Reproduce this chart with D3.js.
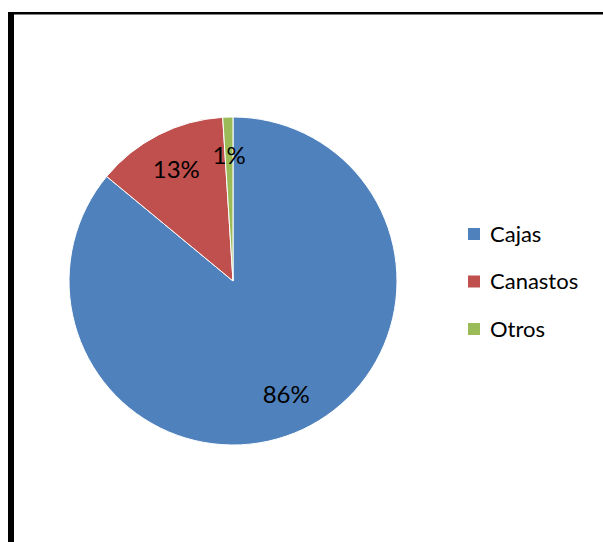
<!DOCTYPE html>
<html>
<head>
<meta charset="utf-8">
<script src="https://cdn.jsdelivr.net/npm/d3@7"></script>
<style>
  html, body { margin: 0; padding: 0; background: #fff; }
  svg { display: block; }
</style>
</head>
<body>
<svg id="chart" width="603" height="542"></svg>
<script>
// Packaging types and their shares (percent)
const categories = ["Cajas", "Canastos", "Otros"];
const values = [86, 13, 1];
const labels = ["86%", "13%", "1%"];
const colors = ["#4F81BD", "#C0504D", "#9BBB59"];

const svg = d3.select("#chart");
const font = "Lato, 'Open Sans', sans-serif";

// Frame: top rule and heavy left rule
svg.append("rect").attr("x", 8).attr("y", 12).attr("width", 595).attr("height", 2.5).attr("fill", "#000");
svg.append("rect").attr("x", 8).attr("y", 12).attr("width", 6).attr("height", 530).attr("fill", "#000");

const cx = 233, cy = 281, r = 164;
const g = svg.append("g").attr("transform", `translate(${cx},${cy})`);

const pie = d3.pie().sort(null).value(d => d)(values);
const arc = d3.arc().innerRadius(0).outerRadius(r);
const labelArc = d3.arc().innerRadius(125).outerRadius(125);

g.selectAll("path.slice")
  .data(pie)
  .join("path")
  .attr("class", "slice")
  .attr("d", arc)
  .attr("fill", (d, i) => colors[i])
  .attr("stroke", "#fff")
  .attr("stroke-width", 1);

g.selectAll("text.lbl")
  .data(pie)
  .join("text")
  .attr("class", "lbl")
  .attr("transform", d => {
    const [x, y] = labelArc.centroid(d);
    return `translate(${x},${y})`;
  })
  .attr("text-anchor", "middle")
  .attr("dy", "0.35em")
  .attr("font-family", font)
  .attr("font-size", 24)
  .attr("fill", "#000")
  .text((d, i) => labels[i]);

// Legend
const legend = svg.append("g").attr("transform", "translate(468,234)");
const rows = legend.selectAll("g")
  .data(categories)
  .join("g")
  .attr("transform", (d, i) => `translate(0,${i * 47.5})`);
rows.append("rect")
  .attr("x", 0).attr("y", -6)
  .attr("width", 12).attr("height", 12)
  .attr("fill", (d, i) => colors[i]);
rows.append("text")
  .attr("x", 22)
  .attr("dy", "0.35em")
  .attr("font-family", font)
  .attr("font-size", 22)
  .attr("fill", "#000")
  .text(d => d);
</script>
</body>
</html>
